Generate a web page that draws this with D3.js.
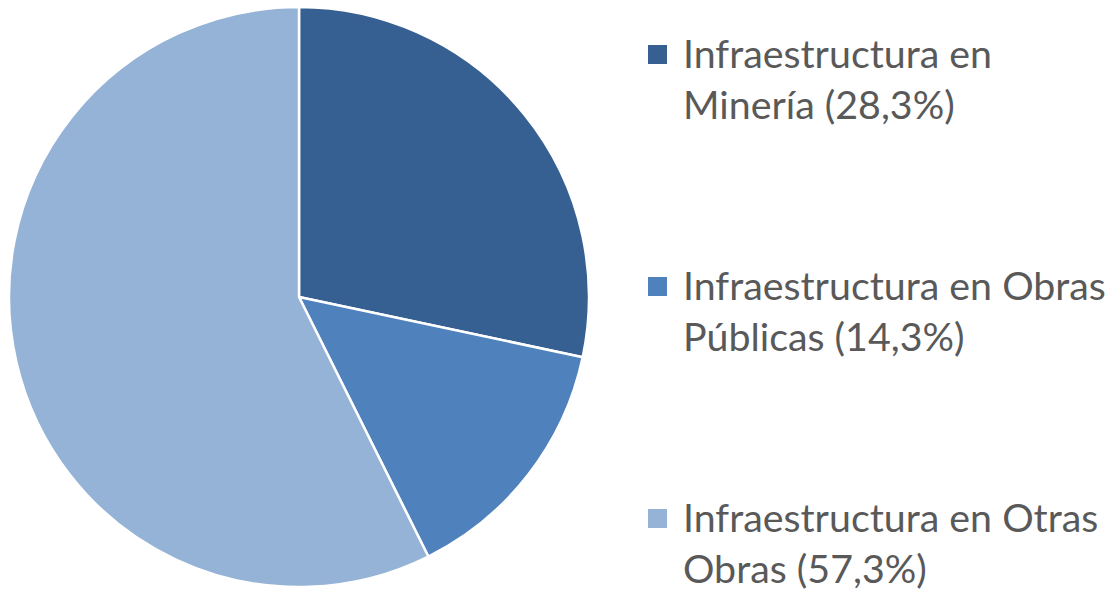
<!DOCTYPE html>
<html>
<head>
<meta charset="utf-8">
<script src="https://cdn.jsdelivr.net/npm/d3@7"></script>
<style>
  html, body { margin: 0; padding: 0; background: #fff; }
  svg { display: block; }
</style>
</head>
<body>
<script>
// datos del gráfico
const categories = ["Infraestructura en Minería", "Infraestructura en Obras Públicas", "Infraestructura en Otras Obras"];
const values = [28.3, 14.3, 57.3];
const legendLines = [
    ["Infraestructura en", "Minería (28,3%)"],
    ["Infraestructura en Obras", "Públicas (14,3%)"],
    ["Infraestructura en Otras", "Obras (57,3%)"]
];
const colors = ["#376092", "#4F81BD", "#95B3D7"];

const width = 1114, height = 592;
const cx = 299, cy = 297, radius = 290;

const svg = d3.select("body")
    .append("svg")
    .attr("width", width)
    .attr("height", height);

const color = d3.scaleOrdinal().domain(categories).range(colors);

const pie = d3.pie().sort(null).value(d => d.value);
const arc = d3.arc().innerRadius(0).outerRadius(radius);

const data = categories.map((c, i) => ({ name: c, value: values[i] }));

svg.append("g")
    .attr("transform", `translate(${cx},${cy})`)
    .selectAll("path")
    .data(pie(data))
    .enter().append("path")
    .attr("d", arc)
    .attr("fill", d => color(d.data.name))
    .attr("stroke", "#fff")
    .attr("stroke-width", 2.5)
    .attr("stroke-linejoin", "round");

// leyenda
const legendY = d3.scalePoint().domain(categories).range([68, 532]);
const fontFamily = "Lato, 'Open Sans', sans-serif";

const legend = svg.append("g")
    .selectAll("g")
    .data(categories)
    .enter().append("g")
    .attr("transform", d => `translate(0,${legendY(d)})`);

legend.append("rect")
    .attr("x", 648)
    .attr("y", -23)
    .attr("width", 19)
    .attr("height", 19)
    .attr("fill", d => color(d));

const texts = legend.append("text")
    .attr("x", 683)
    .attr("y", 0)
    .attr("fill", "#595959")
    .style("font-family", fontFamily)
    .style("font-size", "40px");

texts.each(function(d, i) {
    const t = d3.select(this);
    legendLines[i].forEach((line, j) => {
        t.append("tspan")
            .attr("x", 683)
            .attr("dy", j === 0 ? 0 : 51)
            .text(line);
    });
});

// ajustar tamaño de letra para que "Infraestructura en Obras" mida ~423px
const probe = svg.append("text")
    .style("font-family", fontFamily)
    .style("font-size", "40px")
    .text(legendLines[1][0]);
const w = probe.node().getComputedTextLength();
probe.remove();
texts.style("font-size", (40 * 423 / w) + "px");
</script>
</body>
</html>
